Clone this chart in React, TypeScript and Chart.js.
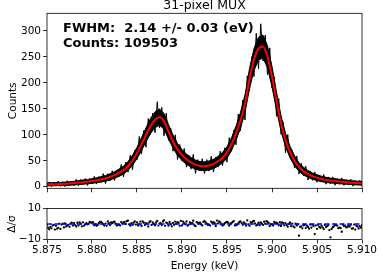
import React, { useEffect, useRef } from 'react';
import { Chart, registerables } from 'chart.js';

Chart.register(...registerables);

const FONT = 'DejaVu Sans';
const TITLE = '31-pixel MUX';
const NOTE_LINES = ['FWHM:  2.14 +/- 0.03 (eV)', 'Counts: 109503'];
const X_LABEL = 'Energy (keV)';
const Y_LABEL_TOP = 'Counts';
const Y_LABEL_BOTTOM = 'Δ/σ';

// energy grid of the sampled values (0.5 eV steps from 5.875 keV)
const ENERGY_START_KEV = 5.875;
const ENERGY_STEP_KEV = 0.0005;

const energyTicks = [5.875, 5.88, 5.885, 5.89, 5.895, 5.9, 5.905, 5.91];
const countTicks = [0, 50, 100, 150, 200, 250, 300];
const residualTicks = [-10, 0, 10];

// fitted line (red), counts per bin
const fitCounts = [
  4.5, 4.8, 5.0, 5.3, 5.7, 6.2, 7.0, 8.0, 8.8, 9.8,
  11, 12.5, 14.2, 16.2, 19, 22.5, 27, 32, 40, 51,
  65, 82, 100, 117, 129, 134, 126, 106, 87, 72,
  61, 53, 47, 42.5, 40, 39.5, 41, 44, 49, 56,
  66, 82, 103, 128, 160, 208, 245, 266, 270, 250,
  212, 165, 122, 90, 67, 50, 38, 30, 24.5, 20.5,
  17.5, 15, 13.2, 12, 11, 10, 9.2, 8.4, 7.7, 7.1,
  6.6,
];

// measured histogram: dense core of the black band
const bandUpper = [
  7.3, 7.8, 8.0, 8.4, 8.9, 9.6, 10.5, 11.8, 12.9, 14.0,
  15.5, 17.2, 19.3, 21.6, 24.9, 28.9, 34.0, 39.7, 48.5, 60.6,
  75.9, 94.3, 113.5, 131.6, 144.4, 149.7, 141.1, 119.9, 99.6, 83.5,
  71.5, 62.9, 56.3, 51.3, 48.5, 48.0, 49.6, 52.9, 58.5, 66.1,
  76.9, 94.3, 116.6, 143.3, 177, 227.4, 266.2, 288, 292.1, 271.3,
  231.7, 182.3, 136.9, 102.8, 78.1, 59.6, 46.4, 37.4, 31.1, 26.6,
  23.2, 20.3, 18.1, 16.7, 15.5, 14.3, 13.3, 12.3, 11.5, 10.7,
  10.1,
];
const bandLower = [
  1.7, 1.8, 2.0, 2.2, 2.5, 2.8, 3.5, 4.2, 4.8, 5.6,
  6.5, 7.8, 9.1, 10.8, 13.1, 16.2, 20.0, 24.3, 31.5, 41.4,
  54.1, 69.7, 86.5, 102.4, 113.6, 118.3, 110.9, 92.1, 74.4, 60.5,
  50.5, 43.1, 37.7, 33.7, 31.5, 31.0, 32.4, 35.1, 39.6, 45.9,
  55.1, 69.7, 89.4, 112.7, 143, 188.6, 223.8, 244, 247.9, 228.7,
  192.3, 147.7, 107.1, 77.2, 55.9, 40.4, 29.6, 22.6, 17.9, 14.4,
  11.8, 9.7, 8.3, 7.3, 6.5, 5.7, 5.2, 4.5, 3.9, 3.5,
  3.1,
];
// measured histogram: noise dips (at grid points) and spikes (between grid points)
const noiseLow = [
  0.7, 0, 1.9, 0.7, 0, 2.5, 2.1, 1.8, 4.9, 2.4,
  5.4, 5.1, 8.5, 6.2, 11.1, 12.2, 19.7, 18.9, 28, 32.5,
  52, 62.9, 76, 100.8, 103.9, 113.1, 98, 89.5, 68.4, 52.4,
  50.1, 37.7, 33.9, 25.6, 30.6, 25.6, 30.1, 28.2, 37.8, 41,
  47.4, 68.4, 80.8, 107.7, 128.5, 185, 212, 226.9, 242.1, 215.2,
  190.1, 135.6, 101.1, 65.3, 55.5, 35.8, 24.4, 21.2, 12.7, 12.4,
  8.7, 9.2, 4.9, 5.4, 2.8, 4.9, 2.6, 3.2, 1, 3,
  1.4,
];
const noiseHigh = [
  9.4, 8.4, 10.8, 9.7, 11.6, 10.4, 14.5, 13.9, 16, 15.5,
  19.9, 19.6, 25.3, 25.2, 30.8, 32.2, 43.1, 47.4, 60.9, 70.2,
  96.7, 108.2, 131.4, 141.9, 163.7, 152.8, 141.8, 112.2, 100, 81.2,
  73.6, 60.7, 62.2, 52.1, 54.2, 52.3, 58.8, 57.4, 68.5, 75,
  94.6, 108.8, 140.1, 166.8, 213.7, 250.5, 295.5, 313.8, 292.2, 267.5,
  211.8, 169.7, 124.4, 100.6, 70.7, 59.3, 45.1, 39.7, 30.5, 28.6,
  22.7, 23.5, 19, 19, 15.4, 17, 13.8, 14.6, 11.8, 12.4,
];

// normalised residuals, four interleaved sample sets
const residA = [
  -0.5, -2.8, -1.2, -3.2, 0.4, -1.8, 0.6, -0.9, 1.1, -0.3,
  0.8, -1.2, 1.3, 0.2, -0.7, 1.5, -0.4, 0.9, 2.2, -0.6,
  1.1, -1.3, 0.5, 1.8, -0.8, 0.3, 2.4, -1.1, 0.7, 1.2,
  -0.9, 1.6, 0.2, -1.4, 0.9, 1.9, -0.5, 1.2, 0.4, -1.0,
  1.4, 0.6, -0.8, 1.7, 0.3, -1.2, 2.0, 0.8, -0.6, 1.3,
  -0.4, 0.9, -1.3, 0.5, 1.0, -2.2, -7.5, -0.8, -1.9, -0.6,
  -3.1, -1.2, -2.0, -8.6, -0.5, -2.4, -1.3, -0.9, -2.8, -1.6,
  -0.8,
];
const residB = [
  -3.4, -0.6, -2.5, 0.2, -1.1, 0.9, -1.6, 0.3, -0.2, 1.4,
  -0.8, 0.5, -0.3, 1.7, 0.6, -1.0, 1.2, 0.1, -1.1, 1.6,
  -0.3, 0.8, -1.6, 1.0, 2.0, -0.7, 0.9, -0.2, 1.5, -1.2,
  0.6, -0.4, 2.1, 0.8, -0.9, 0.2, 1.5, -1.3, 1.0, 0.5,
  -1.1, 1.8, 0.4, -0.5, 2.3, 0.7, -0.9, 1.1, 0.2, -1.4,
  1.3, -0.8, 0.6, -1.7, 0.2, -0.9, -1.5, -2.6, -0.4, -6.5,
  -1.8, -3.3, -0.7, -2.1, -1.0, -5.0, -2.2, -0.5, -3.6, -1.4,
];
const residC = [
  -1.9, -3.6, 0.2, -2.2, -0.5, -1.0, 0.8, -1.5, 0.5, 0.9,
  -0.1, 1.3, -1.0, 0.6, 1.2, -0.5, 0.3, 1.8, 0.6, -0.4,
  1.5, -0.7, 1.2, 0.1, -1.0, 1.6, 0.4, -1.5, 0.2, 2.0,
  -0.2, 1.1, -0.8, 0.5, 1.4, -0.6, 0.7, 2.2, -0.3, 1.0,
  0.2, -0.9, 1.3, 1.0, -0.2, 1.6, -0.5, 0.3, 1.9, -0.1,
  0.5, 1.2, -0.9, 0.1, -1.5, -0.3, -2.8, -1.1, -2.3, -0.9,
  -2.5, -0.6, -3.9, -1.5, -2.7, -0.4, -1.9, -3.0, -1.2, -2.4,
];
const residD = [
  -2.4, -1.0, -3.0, -0.4, -1.6, 0.3, -0.7, 1.0, -1.1, 0.4,
  1.2, -0.6, 0.7, -1.2, 1.0, 0.3, -0.9, 1.4, -0.2, 0.9,
  -1.0, 1.6, 0.3, -0.6, 1.1, 0.6, -1.2, 1.3, -0.5, 0.8,
  1.5, -1.1, 0.7, 1.2, -0.3, 1.0, -1.0, 0.5, 1.7, -0.6,
  0.9, 1.3, -0.4, 0.6, -1.1, 1.2, 0.4, -0.8, 1.5, 0.7,
  -1.0, 0.3, 1.1, -0.7, -1.4, 0.2, -1.9, -0.6, -3.0, -1.3,
  -0.5, -2.2, -1.4, -3.2, -0.8, -2.6, -1.1, -1.7, -0.4, -2.9,
];
const zeroLine = [0, 0];

const energyAt = (steps: number) => ENERGY_START_KEV + steps * ENERGY_STEP_KEV;
const toPoints = (vals: number[], offsetSteps = 0) =>
  vals.map((y, i) => ({ x: energyAt(i + offsetSteps), y }));

// jagged measured trace: dip, spike, dip, spike ...
const noiseTrace = () => {
  const pts: { x: number; y: number }[] = [];
  noiseLow.forEach((lo, i) => {
    pts.push({ x: energyAt(i), y: lo });
    if (i < noiseHigh.length) pts.push({ x: energyAt(i + 0.5), y: noiseHigh[i] });
  });
  return pts;
};

const framePlugin = {
  id: 'frame',
  afterDraw(chart: any) {
    const { ctx, chartArea: a } = chart;
    ctx.save();
    ctx.strokeStyle = '#000';
    ctx.lineWidth = 0.8;
    ctx.strokeRect(a.left, a.top, a.right - a.left, a.bottom - a.top);
    ctx.restore();
  },
};

const textPlugin = {
  id: 'texts',
  afterDraw(chart: any) {
    const { ctx, chartArea: a } = chart;
    ctx.save();
    ctx.fillStyle = '#000';
    ctx.textAlign = 'center';
    ctx.textBaseline = 'alphabetic';
    ctx.font = `12.5px "${FONT}"`;
    ctx.fillText(TITLE, (a.left + a.right) / 2, 8.5);
    ctx.textAlign = 'left';
    ctx.font = `bold 13px "${FONT}"`;
    NOTE_LINES.forEach((t, i) => ctx.fillText(t, a.left + 16, a.top + 18.5 + i * 15));
    ctx.restore();
  },
};

const tickFont = { family: FONT, size: 10.5 };
const gridOpts = { display: true, drawOnChartArea: false, drawTicks: true, tickLength: 4, color: '#000', lineWidth: 0.8 };

const residSet = (label: string, vals: number[], offset: number) => ({
  label,
  data: toPoints(vals, offset),
  showLine: false,
  pointRadius: 1.15,
  pointBorderWidth: 0,
  pointBackgroundColor: '#000',
  borderColor: '#000',
});

export default function App() {
  const topRef = useRef<HTMLCanvasElement>(null);
  const botRef = useRef<HTMLCanvasElement>(null);

  useEffect(() => {
    const top = new Chart(topRef.current!, {
      type: 'line',
      data: {
        datasets: [
          {
            label: 'fit',
            data: toPoints(fitCounts),
            borderColor: '#ff0000',
            borderWidth: 2,
            pointRadius: 0,
            tension: 0.4,
            cubicInterpolationMode: 'monotone',
            fill: false,
          },
          {
            label: 'data trace',
            data: noiseTrace(),
            borderColor: '#000',
            borderWidth: 1,
            pointRadius: 0,
            tension: 0,
            fill: false,
          },
          {
            label: 'data core upper',
            data: toPoints(bandUpper),
            borderColor: '#000',
            backgroundColor: '#000',
            borderWidth: 1,
            pointRadius: 0,
            tension: 0,
            fill: '+1',
          },
          {
            label: 'data core lower',
            data: toPoints(bandLower),
            borderColor: '#000',
            borderWidth: 1,
            pointRadius: 0,
            tension: 0,
            fill: false,
          },
        ],
      } as any,
      options: {
        responsive: false,
        animation: false,
        devicePixelRatio: 1,
        layout: { padding: { left: 0, right: 21, top: 13.3, bottom: 11.7 } },
        plugins: { legend: { display: false }, tooltip: { enabled: false }, title: { display: false } },
        scales: {
          x: {
            type: 'linear',
            min: 5.875,
            max: 5.91,
            afterBuildTicks: (s: any) => { s.ticks = energyTicks.map((v) => ({ value: v })); },
            afterFit: (s: any) => { s.height = 0; },
            ticks: { display: false },
            grid: gridOpts,
            border: { display: false },
          },
          y: {
            type: 'linear',
            min: -3,
            max: 334,
            afterBuildTicks: (s: any) => { s.ticks = countTicks.map((v) => ({ value: v })); },
            afterFit: (s: any) => { s.width = 47; },
            ticks: { font: tickFont, color: '#000', padding: 2 },
            grid: gridOpts,
            border: { display: false },
            title: { display: true, text: Y_LABEL_TOP, font: tickFont, color: '#000', padding: { top: 6.7, bottom: 0 } },
          },
        },
      } as any,
      plugins: [framePlugin, textPlugin],
    });

    const bottom = new Chart(botRef.current!, {
      type: 'line',
      data: {
        datasets: [
          {
            label: 'zero',
            data: [
              { x: energyTicks[0], y: zeroLine[0] },
              { x: energyTicks[energyTicks.length - 1], y: zeroLine[1] },
            ],
            borderColor: '#0000ff',
            borderWidth: 1.5,
            borderDash: [5, 2.5],
            pointRadius: 0,
            fill: false,
          },
          residSet('resid A', residA, 0),
          residSet('resid B', residB, 0.5),
          residSet('resid C', residC, 0.75),
          residSet('resid D', residD, 0.25),
        ],
      } as any,
      options: {
        responsive: false,
        animation: false,
        devicePixelRatio: 1,
        layout: { padding: { left: 0, right: 21, top: 8.5, bottom: 0 } },
        plugins: { legend: { display: false }, tooltip: { enabled: false }, title: { display: false } },
        scales: {
          x: {
            type: 'linear',
            min: 5.875,
            max: 5.91,
            afterBuildTicks: (s: any) => { s.ticks = energyTicks.map((v) => ({ value: v })); },
            afterFit: (s: any) => { s.height = 36.5; },
            ticks: {
              font: tickFont,
              color: '#000',
              padding: 0,
              autoSkip: false,
              maxRotation: 0,
              minRotation: 0,
              callback: (v: any) => Number(v).toFixed(3),
            },
            grid: gridOpts,
            border: { display: false },
            title: { display: true, text: X_LABEL, font: tickFont, color: '#000', padding: { top: 0, bottom: 3.7 } },
          },
          y: {
            type: 'linear',
            min: -10,
            max: 10,
            afterBuildTicks: (s: any) => { s.ticks = residualTicks.map((v) => ({ value: v })); },
            afterFit: (s: any) => { s.width = 47; },
            ticks: {
              font: tickFont,
              color: '#000',
              padding: 2,
              callback: (v: any) => (Number(v) < 0 ? '\u2212' + Math.abs(Number(v)) : String(v)),
            },
            grid: gridOpts,
            border: { display: false },
            title: { display: true, text: Y_LABEL_BOTTOM, font: tickFont, color: '#000', padding: { top: 5.5, bottom: 0 } },
          },
        },
      } as any,
      plugins: [framePlugin],
    });

    return () => {
      top.destroy();
      bottom.destroy();
    };
  }, []);

  return (
    <div style={{ position: 'absolute', left: 0, top: 0, width: 383, height: 276, background: '#fff', overflow: 'hidden' }}>
      <canvas ref={topRef} width={383} height={200} style={{ position: 'absolute', left: 0, top: 0, display: 'block' }} />
      <canvas ref={botRef} width={383} height={76} style={{ position: 'absolute', left: 0, top: 200, display: 'block' }} />
    </div>
  );
}
